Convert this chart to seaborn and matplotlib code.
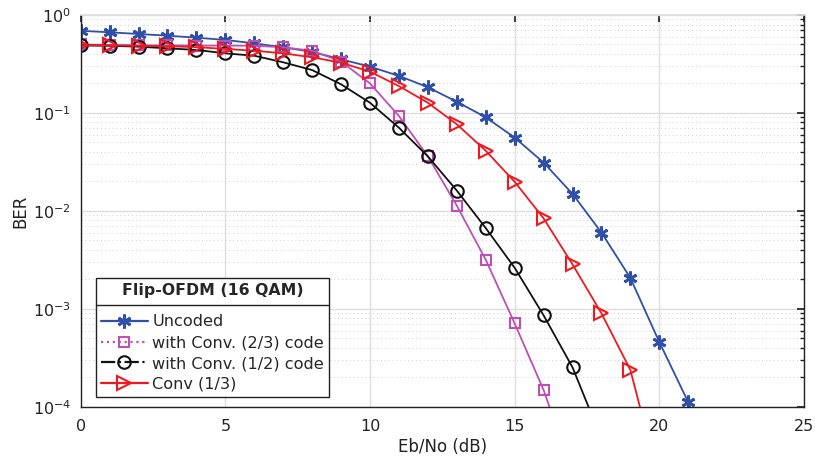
import numpy as np
import pandas as pd
import matplotlib
matplotlib.use("Agg")
import matplotlib.pyplot as plt
import seaborn as sns
from matplotlib.lines import Line2D
from matplotlib.ticker import LogLocator, FixedLocator

sns.set_theme(style="white")
plt.rcParams['font.family'] = ['DejaVu Sans']

# ---- data ----
ebno = list(range(0, 23))
uncoded = [0.69, 0.666, 0.64, 0.615, 0.587, 0.556, 0.514, 0.468, 0.42, 0.353, 0.297,
           0.239, 0.183, 0.130, 0.0904, 0.056, 0.0311, 0.0149, 0.006, 0.00206,
           0.000457, 0.000111, 2.0e-5]
conv23 = [0.50, 0.495, 0.49, 0.49, 0.488, 0.487, 0.486, 0.468, 0.432, 0.335, 0.20,
          0.093, 0.036, 0.0113, 0.00317, 0.000708, 0.000148, 2.1e-5]
conv12 = [0.49, 0.485, 0.475, 0.457, 0.44, 0.406, 0.384, 0.329, 0.274, 0.196, 0.127,
          0.0706, 0.036, 0.0161, 0.00667, 0.00262, 0.000857, 0.000252, 4.7e-5]
conv13 = [0.49, 0.49, 0.485, 0.48, 0.47, 0.45, 0.432, 0.406, 0.37, 0.326, 0.264,
          0.188, 0.127, 0.0766, 0.0411, 0.0198, 0.00838, 0.00284, 0.000897,
          0.000237, 1.7e-5]

series = [
    ("Uncoded", uncoded, "#2F4FA8", (6, 2, 0), "-"),
    ("with Conv. (2/3) code", conv23, "#BE4FB4", "s", ":"),
    ("with Conv. (1/2) code", conv12, "#111111", "o", "-."),
    ("Conv (1/3)", conv13, "#F01820", ">", "-"),
]

fig = plt.figure(figsize=(8.15, 4.62), dpi=100)
ax = fig.add_axes([0.099, 0.1197, 0.8875, 0.8478])

handles = []
for name, vals, col, mk, ls in series:
    df = pd.DataFrame({"x": ebno[:len(vals)], "y": vals})
    if mk == "s":
        ms = 7
    elif mk == "o":
        ms = 9
    elif mk == ">":
        ms = 9.5
    else:
        ms = 10
    ew = 2.0 if isinstance(mk, tuple) else 1.5
    sns.lineplot(data=df, x="x", y="y", ax=ax, color=col, marker=mk,
                 markersize=ms, markerfacecolor="none",
                 markeredgecolor=col, markeredgewidth=ew, linewidth=1.3,
                 legend=False)
    handles.append(Line2D([0], [0], color=col, marker=mk, linestyle=ls,
                          markersize=ms, markerfacecolor="none",
                          markeredgecolor=col, markeredgewidth=ew, linewidth=1.6))

ax.set_yscale("log")
ax.set_xlim(0, 25)
ax.set_ylim(1e-4, 1)
ax.xaxis.set_major_locator(FixedLocator([0, 5, 10, 15, 20, 25]))
ax.xaxis.set_minor_locator(FixedLocator([]))
ax.yaxis.set_major_locator(LogLocator(base=10, numticks=10))
ax.yaxis.set_minor_locator(LogLocator(base=10, subs=np.arange(2, 10), numticks=20))

ax.grid(which="major", color="#DEDEDE", linewidth=1.0, linestyle="-")
ax.grid(which="minor", axis="y", color="#D0D0D0", linewidth=0.7, linestyle=(0, (1, 3)))
ax.set_axisbelow(True)

ax.tick_params(which="both", direction="in", top=True, right=True,
               labelsize=11.5, colors="#222222", length=5)
ax.tick_params(which="minor", length=3)
ax.tick_params(axis="x", pad=9)
ax.tick_params(axis="y", pad=7)

for s in ["left", "bottom", "right"]:
    ax.spines[s].set_color("#222222")
    ax.spines[s].set_linewidth(1.0)
ax.spines["top"].set_color("#DDDDDD")

ax.set_xlabel("Eb/No (dB)", fontsize=12, color="#222222", labelpad=3)
ax.set_ylabel("BER", fontsize=12, color="#222222")
ax.yaxis.set_label_coords(-0.0715, 0.5)

leg = ax.legend(handles, [s[0] for s in series], loc="upper left",
                bbox_to_anchor=(96 / 815, 1 - 278 / 462), bbox_transform=fig.transFigure,
                frameon=True, fancybox=False,
                fontsize=11.6, handlelength=2.9, handletextpad=0.3,
                borderpad=0.3, labelspacing=0.36, borderaxespad=0,
                title="Flip-OFDM (16 QAM)",
                title_fontproperties={"weight": "bold", "size": 11.3})
leg.get_frame().set_edgecolor("#222222")
leg.get_frame().set_linewidth(1.0)
leg.get_frame().set_alpha(1)
leg._legend_box.sep = 12

fig.canvas.draw()
renderer = fig.canvas.get_renderer()
bb = leg.get_window_extent(renderer)
tb = leg.get_title().get_window_extent(renderer)
first = leg.get_texts()[0].get_window_extent(renderer)
ysep_px = (tb.y0 + first.y1) / 2 + 1
ysep = ysep_px / fig.bbox.height
fig.add_artist(Line2D([bb.x0 / fig.bbox.width, bb.x1 / fig.bbox.width], [ysep, ysep],
                      transform=fig.transFigure, color="#222222", linewidth=1.0,
                      zorder=10))

fig.savefig("out.png", dpi=100)
